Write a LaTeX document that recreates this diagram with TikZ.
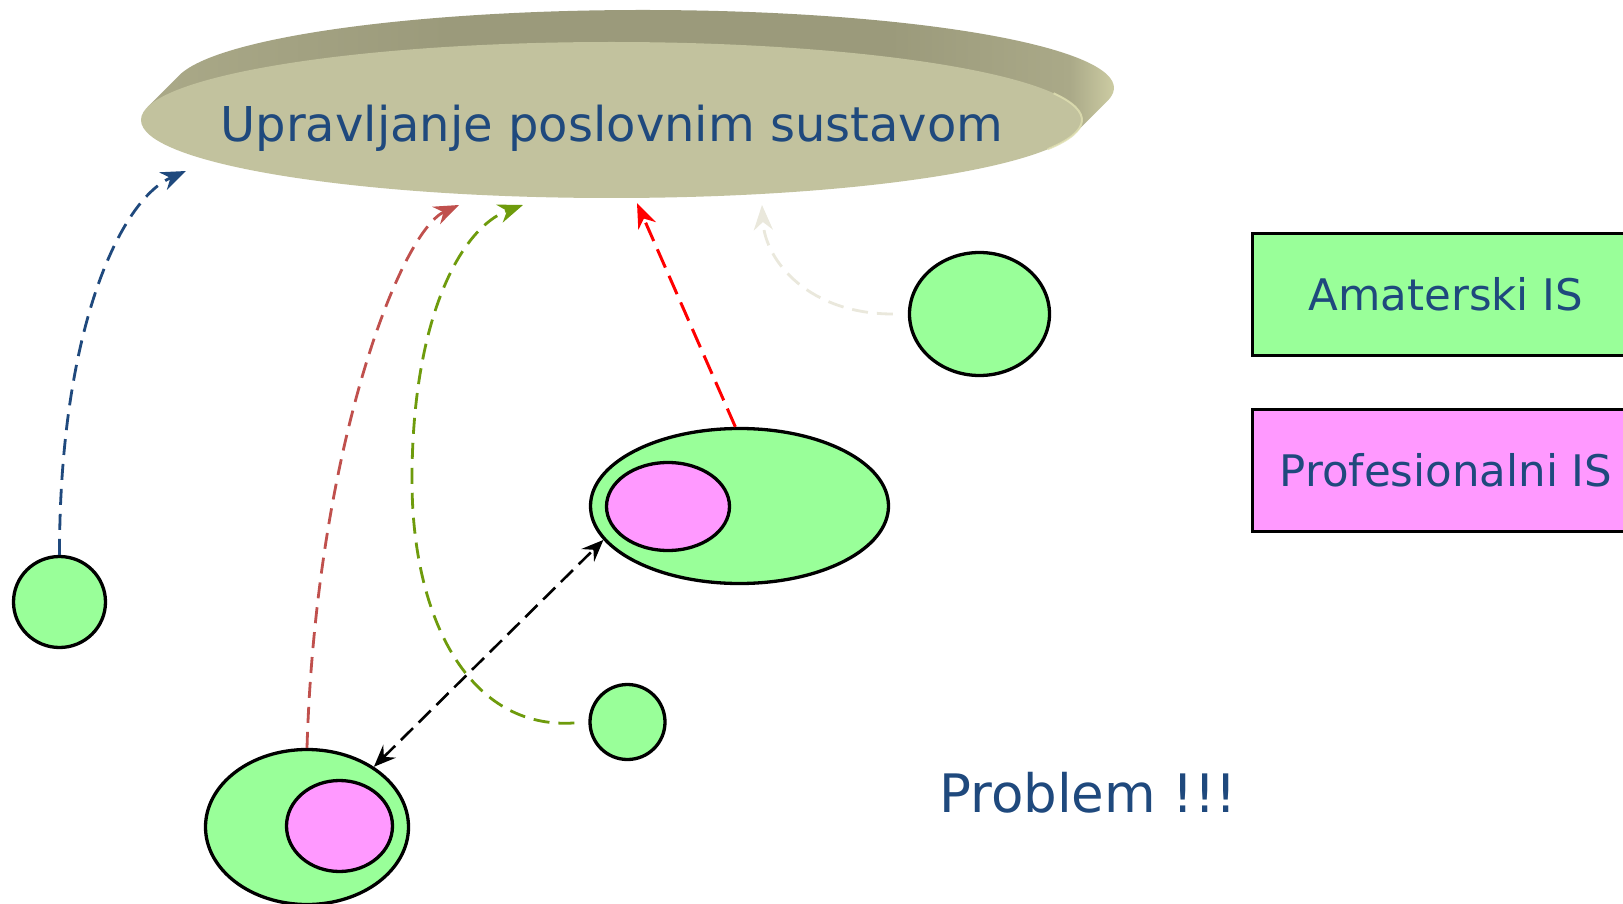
\documentclass[tikz,border=0pt]{standalone}
\usepackage{fontspec}
\setmainfont{DejaVu Sans}
\usetikzlibrary{arrows.meta,shapes.geometric}

\definecolor{txtblue}{RGB}{31,73,125}
\definecolor{amgreen}{RGB}{153,255,153}
\definecolor{prpink}{RGB}{255,153,255}
\definecolor{faceol}{RGB}{194,194,158}
\definecolor{sideL}{RGB}{170,169,136}
\definecolor{sideM}{RGB}{155,154,123}
\definecolor{sideR}{RGB}{224,224,178}
\definecolor{lnblue}{RGB}{31,73,125}
\definecolor{lnbrick}{RGB}{192,80,77}
\definecolor{lnolive}{RGB}{110,155,12}
\definecolor{lnbeige}{RGB}{234,232,220}

% side of the disc: darker in the middle, bright rim at the right end
\pgfdeclarehorizontalshading{diskside}{100bp}{color(0bp)=(sideL); color(25bp)=(sideL);
  color(40bp)=(sideM); color(62bp)=(sideM); color(71bp)=(sideL); color(74.5bp)=(sideR);
  color(75bp)=(sideR); color(100bp)=(sideR)}

\begin{document}
\begin{tikzpicture}[x=1pt,y=-1pt,
  amateur/.style={ellipse, draw=black, line width=3.3pt, fill=amgreen, inner sep=0pt},
  profi/.style={ellipse, draw=black, line width=3.3pt, fill=prpink, inner sep=0pt},
  legendbox/.style={rectangle, draw=black, line width=3pt, inner sep=0pt,
    minimum width=388pt, minimum height=122pt, text=txtblue,
    font=\fontsize{43.5}{52}\selectfont},
  dashlink/.style={line width=2.8pt, dash pattern=on 16pt off 9pt,
    -{Stealth[length=25pt,width=19pt,inset=8pt]}},
  duallink/.style={line width=2.6pt, dash pattern=on 17pt off 8pt,
    {Stealth[length=22pt,width=18pt,inset=8pt]}-{Stealth[length=22pt,width=18pt,inset=8pt]}}
]
\useasboundingbox (0,0) rectangle (1623,904);
\begin{scope}
\clip (0,0) rectangle (1623,904);
\fill[white] (0,0) rectangle (1623,904);

% the disc: side band, then the top face
\shade[shading=diskside] (147.3,107.25) -- (179.3,75.25)
  arc[start angle=189.41, end angle=369.41, x radius=470.5, y radius=78]
  -- (1075.7,132.75) -- cycle;
\fill[faceol] (611.5,120) ellipse [x radius=470.5, y radius=78];
\draw[sideR, line width=2pt, opacity=0.8] (1053.6,93.3)
  arc[start angle=-20, end angle=22, x radius=470.5, y radius=78];
\node[anchor=base, text=txtblue, font=\fontsize{48}{58}\selectfont, inner sep=0pt]
  (disk) at (612,142) {Upravljanje poslovnim sustavom};

% arrow ends just below the disc
\coordinate (tipBlue)  at (186,171);
\coordinate (tipBrick) at (459,205);
\coordinate (tipOlive) at (523,205);
\coordinate (tipRed)   at (637,203);
\coordinate (tipBeige) at (762,205);

% information systems
\node[amateur, minimum width=92pt,  minimum height=91pt]  (c1) at (59.5,602) {};
\node[amateur, minimum width=140pt, minimum height=123pt] (c2) at (979.5,314) {};
\node[amateur, minimum width=298pt, minimum height=155pt] (e3) at (739.5,506) {};
\node[profi,   minimum width=123pt, minimum height=88pt]  (p3) at (668,506.5) {};
\node[amateur, minimum width=75pt,  minimum height=75pt]  (c4) at (627.5,722) {};
\node[amateur, minimum width=203pt, minimum height=155pt] (e5) at (307,827) {};
\node[profi,   minimum width=106pt, minimum height=91pt]  (p5) at (339.5,826) {};

% legend
\node[legendbox, fill=amgreen] (legA) at (1446,294.5) {Amaterski IS};
\node[legendbox, fill=prpink]  (legP) at (1446,470)   {Profesionalni IS};

\node[anchor=base, text=txtblue, font=\fontsize{53}{64}\selectfont, inner sep=0pt]
  (problem) at (1088,812) {Problem !!!};

% connectors
\draw[dashlink, lnblue] (c1.north) .. controls (59.5,330) and (120,200) .. (tipBlue);
\draw[dashlink, lnbrick] (e5.north) .. controls (316,450) and (400,232) .. (tipBrick);
\draw[dashlink, lnolive, shorten <=14pt] (c4.west) .. controls (470,730) and (412,620) .. (412,480)
  .. controls (412,320) and (460,228) .. (tipOlive);
\draw[dashlink, red, line width=3pt, dash pattern=on 20pt off 9pt] (e3.93) -- (tipRed);
\draw[dashlink, lnbeige, shorten <=15pt] (c2.west) .. controls (810,314) and (765,262) .. (tipBeige);
\draw[duallink, black] (e5.42) -- (e3.194);
\end{scope}
\end{tikzpicture}
\end{document}
